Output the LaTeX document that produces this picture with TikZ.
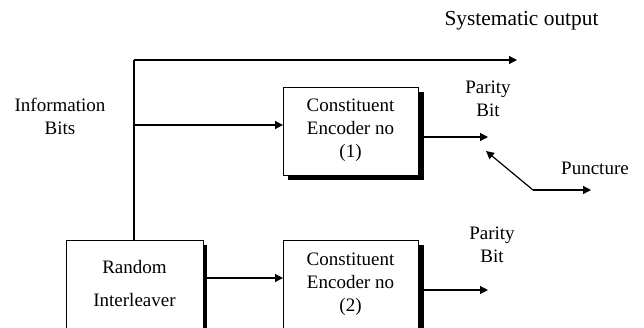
\documentclass[tikz,border=0pt]{standalone}
\usepackage{fontspec}
\setmainfont{Liberation Serif}
\usetikzlibrary{arrows.meta}
\begin{document}
\begin{tikzpicture}[x=1pt,y=-1pt,
  lbl/.style={font=\fontsize{19}{23}\selectfont, align=center, inner sep=0pt},
  wire/.style={line width=1.2pt},
  arr/.style={wire,-{Triangle[length=8pt,width=8pt]}},
  boxln/.style={draw, line width=1pt, fill=white},
  shadow/.style={fill=black}
]
\useasboundingbox (0,0) rectangle (644,327);
\clip (0,0) rectangle (644,327);
% boxes
\fill[shadow] (288,92) rectangle (424,180);
\draw[boxln] (283,87) rectangle (418,175);
\node[lbl] (enc1) at (350.5,130) {Constituent\\Encoder no\\(1)};
\coordinate (enc1w) at (283,125);
\coordinate (enc1e) at (424,137);

\fill[shadow] (71,245) rectangle (207,340);
\draw[boxln] (66,240) rectangle (203,335);
\node[lbl, font=\fontsize{19}{33}\selectfont] (intl) at (134.5,283) {Random\\Interleaver};
\coordinate (intln) at (134,240);
\coordinate (intle) at (207,278);

\fill[shadow] (288,245) rectangle (424,340);
\draw[boxln] (283,240) rectangle (418,335);
\node[lbl] (enc2) at (350.5,284) {Constituent\\Encoder no\\(2)};
\coordinate (enc2w) at (283,278);
\coordinate (enc2e) at (424,290);

% labels
\node[lbl, font=\fontsize{21.4}{25}\selectfont] (sys) at (521.5,21) {Systematic output};
\node[lbl] (info) at (60,116) {Information\\Bits};
\node[lbl] (par1) at (488,99) {Parity\\Bit};
\node[lbl] (par2) at (492,245) {Parity\\Bit};
\node[lbl] (punc) at (595,168) {Puncture};

% connectors
\coordinate (top) at (134,60);
\coordinate (sysend) at (517,60);
\coordinate (branch) at (134,125);
\coordinate (p1end) at (488,137);
\coordinate (p2end) at (488,290);
\coordinate (pcorner) at (533,190);
\coordinate (ptip) at (486,151);
\coordinate (pend) at (591,190);

\draw[wire] (intln) -- (top);
\draw[arr] (top) -- (sysend);
\draw[arr] (branch) -- (enc1w);
\draw[arr] (enc1e) -- (p1end);
\draw[arr] (intle) -- (enc2w);
\draw[arr] (enc2e) -- (p2end);
\draw[arr] (pcorner) -- (ptip);
\draw[arr] (pcorner) -- (pend);
\end{tikzpicture}
\end{document}
